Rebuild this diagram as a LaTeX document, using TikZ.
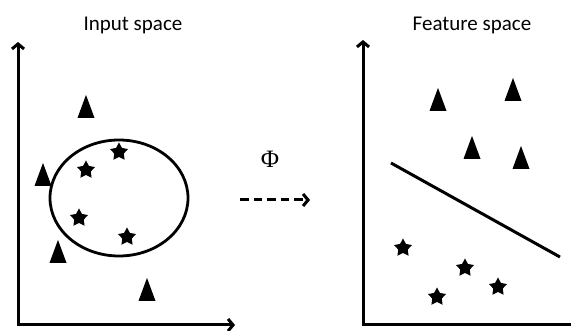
\documentclass[tikz,border=0pt]{standalone}
\usepackage{fontspec}
\setsansfont{Carlito}
\newfontfamily\phifont{Liberation Serif}
\usetikzlibrary{arrows.meta, shapes.geometric}

\begin{document}
\begin{tikzpicture}[x=1pt, y=-1pt,
    axis/.style={line width=3pt, {Straight Barb[length=5pt, width=12pt]}-{Straight Barb[length=5pt, width=12pt]}},
    tri/.style={isosceles triangle, isosceles triangle stretches, shape border rotate=90, fill=black, inner sep=0pt, minimum width=17pt, minimum height=23pt},
    pt/.style={star, star points=5, star point ratio=1.9, fill=black, inner sep=0pt, minimum size=19pt},
    title/.style={font=\sffamily\fontsize{21}{25}\selectfont}]
  \useasboundingbox (0,0) rectangle (571,331);
  % input space
  \node[title] (inlabel) at (133,25) {Input space};
  \coordinate (iny) at (18,42);
  \coordinate (inx) at (235,325);
  \draw[axis] (iny) |- (inx);
  \node[draw, ellipse, line width=2.8pt, inner sep=0pt, minimum width=138pt, minimum height=116pt] (ring) at (119,198) {};
  \foreach \x/\y [count=\i] in {86/112, 43/180, 58/257, 147/295}
    \node[tri] (ta\i) at (\x,\y) {};
  \foreach \x/\y [count=\i] in {119/152, 86/170, 79/218, 127/237}
    \node[pt] (sa\i) at (\x,\y) {};
  % mapping
  \node[font=\phifont\fontsize{25}{30}\selectfont] (phi) at (270,159) {Φ};
  \coordinate (mapa) at (240,200);
  \coordinate (mapb) at (310,200);
  \draw[line width=3pt, dash pattern=on 8.5pt off 5pt, -{Straight Barb[length=5pt, width=12pt]}] (mapa) -- (mapb);
  % feature space
  \node[title] (featlabel) at (472,25) {Feature space};
  \coordinate (fy) at (363,40);
  \coordinate (fo) at (363,325);
  \coordinate (fx) at (571,325);
  \draw[line width=3pt, {Straight Barb[length=5pt, width=12pt]}-] (fy) -- (fo) -- (fx);
  \foreach \x/\y [count=\i] in {438/105, 513/95, 472/153, 521/163}
    \node[tri] (tb\i) at (\x,\y) {};
  \foreach \x/\y [count=\i] in {403/248, 465/268, 437/297, 498/287}
    \node[pt] (sb\i) at (\x,\y) {};
  \coordinate (sepa) at (391,163);
  \coordinate (sepb) at (560,257);
  \draw[line width=3pt] (sepa) -- (sepb);
\end{tikzpicture}
\end{document}
